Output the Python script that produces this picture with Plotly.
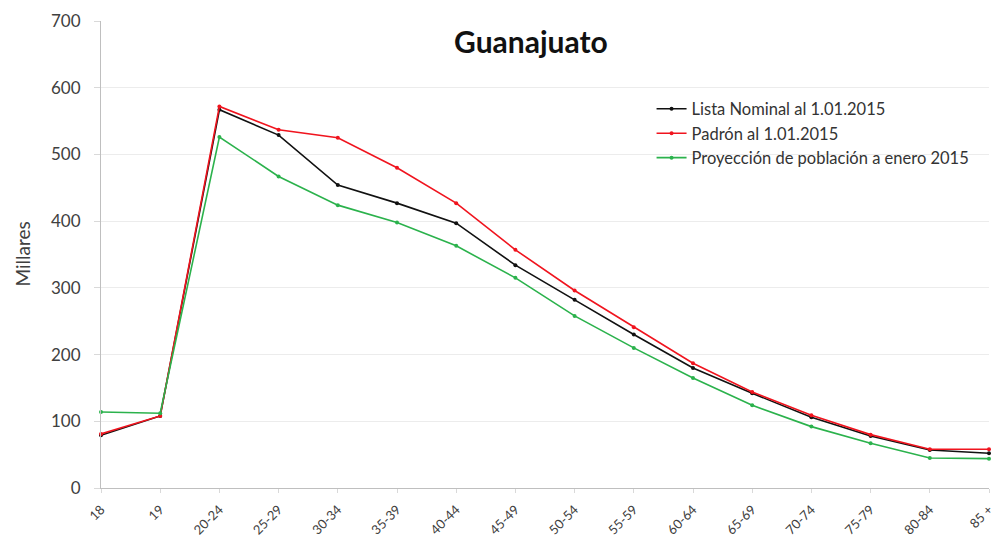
import plotly.graph_objs as go

categories = ['18', '19', '20-24', '25-29', '30-34', '35-39', '40-44', '45-49',
              '50-54', '55-59', '60-64', '65-69', '70-74', '75-79', '80-84', '85 +']

lista_nominal = [79, 108, 567, 529, 454, 427, 397, 334, 282, 230, 180, 142, 106, 78, 57, 52]
padron = [81, 108, 572, 537, 525, 480, 427, 357, 296, 241, 187, 144, 109, 80, 58, 58]
proyeccion = [114, 112, 526, 467, 424, 398, 363, 315, 258, 210, 165, 124, 92, 67, 45, 44]

font_name = 'Lato, Open Sans, sans-serif'

fig = go.Figure()

# three series, lines with small dots
series = [
    ('Lista Nominal al 1.01.2015', lista_nominal, '#111111'),
    ('Padrón al 1.01.2015', padron, '#f0141e'),
    ('Proyección de población a enero 2015', proyeccion, '#2bb24c'),
]
for name, vals, col in series:
    fig.add_trace(go.Scatter(x=categories, y=vals, mode='lines+markers', name=name,
                             line=dict(color=col, width=1.6),
                             marker=dict(color=col, size=4),
                             cliponaxis=False))

fig.update_layout(
    width=998, height=537,
    paper_bgcolor='white', plot_bgcolor='white',
    font=dict(family=font_name, color='#404040', size=16),
    margin=dict(l=101, r=9, t=21, b=49),
    title=dict(text='<b>Guanajuato</b>', x=0.532, xanchor='center',
               y=1 - 42 / 537, yanchor='middle', yref='container',
               font=dict(size=30, color='#111111', family=font_name)),
    legend=dict(x=0.62, y=0.849, xanchor='left', yanchor='top',
                bgcolor='rgba(0,0,0,0)', font=dict(size=16.5, color='#333333'),
                tracegroupgap=0, itemwidth=30),
    showlegend=True,
)

# y axis title as annotation so it sits near the left edge
fig.add_annotation(text='Millares', xref='paper', yref='paper',
                   x=(22 - 101) / 888, y=0.5, xanchor='center', yanchor='middle',
                   textangle=-90, showarrow=False,
                   font=dict(size=19, color='#404040', family=font_name))

fig.update_xaxes(type='category', range=[0, 15], showgrid=False, automargin=False,
                 showline=True, linecolor='#bfbfbf', linewidth=1,
                 ticks='outside', ticklen=4, tickcolor='#d9d9d9',
                 ticklabelstandoff=4,
                 tickangle=-45, tickfont=dict(size=13, color='#404040'))
fig.update_yaxes(range=[0, 700], dtick=100, showgrid=True, gridcolor='#ececec',
                 automargin=False,
                 showline=True, linecolor='#bfbfbf', linewidth=1,
                 ticks='outside', ticklen=6, tickcolor='#d9d9d9',
                 ticklabelstandoff=10,
                 zeroline=False, tickfont=dict(size=17, color='#404040'))

# page body has a default 8px margin, drop it so the figure sits at 0,0
fig.write_html('out.html', config={'displayModeBar': False},
               post_script="document.body.style.margin='0';")
